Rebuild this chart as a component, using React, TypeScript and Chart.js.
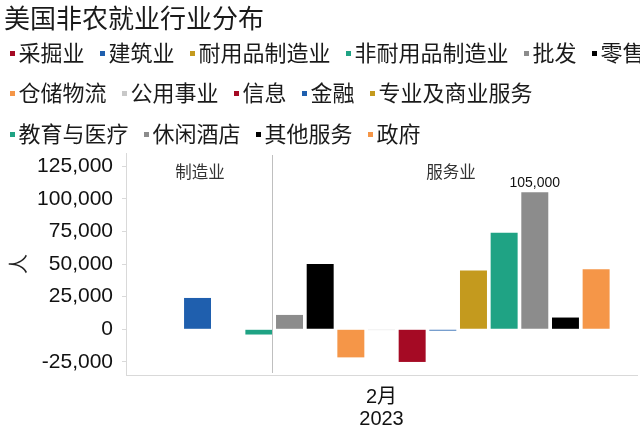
import React, { useEffect, useRef } from 'react';
import { Chart, registerables } from 'chart.js';

Chart.register(...registerables);

const TITLE = '美国非农就业行业分布';
const CATEGORY_LABEL = ['2月', '2023'];
const SERIES_NAMES = [
  '采掘业', '建筑业', '耐用品制造业', '非耐用品制造业', '批发', '零售',
  '仓储物流', '公用事业', '信息', '金融', '专业及商业服务',
  '教育与医疗', '休闲酒店', '其他服务', '政府',
];
const SERIES_VALUES = [0, 24000, 0, -4000, 11000, 50000, -21500, -600, -25000, -1000, 45000, 74000, 105000, 9000, 46000];
const SERIES_COLORS = [
  '#A50A24', '#1F5FAE', '#C49A1E', '#1FA384', '#8C8C8C', '#000000',
  '#F59648', '#C8C8C8', '#A50A24', '#1F5FAE', '#C49A1E',
  '#1FA384', '#8C8C8C', '#000000', '#F59648',
];
const Y_TICKS = [-25000, 0, 25000, 50000, 75000, 100000, 125000];
const Y_MIN = -35000;
const Y_MAX = 135000;
const Y_TITLE = '人';
const GROUP_LABELS = ['制造业', '服务业'];
const LEGEND_ROW_BREAKS = [6, 11];
const VALUE_LABEL_INDEX = 12;
const SEPARATOR_AFTER_INDEX = 3;

const CJK = '"Noto Sans CJK SC"';
const LATIN = '"Liberation Sans", "Noto Sans CJK SC"';

const fmt = (v: number) => v.toLocaleString('en-US');

const headerPlugin = {
  id: 'header',
  afterDraw(chart: any) {
    const ctx = chart.ctx as CanvasRenderingContext2D;
    ctx.save();
    ctx.textBaseline = 'middle';
    ctx.textAlign = 'left';
    ctx.fillStyle = '#1a1a1a';
    ctx.font = `26px ${CJK}`;
    ctx.fillText(TITLE, 4, 18);

    ctx.font = `22px ${CJK}`;
    const rowsY = [53, 93, 134];
    let row = 0;
    let x = 10;
    SERIES_NAMES.forEach((name, i) => {
      if (LEGEND_ROW_BREAKS.includes(i)) {
        row += 1;
        x = 10;
      }
      const y = rowsY[row];
      ctx.fillStyle = SERIES_COLORS[i];
      ctx.fillRect(x, y - 2, 5, 5);
      ctx.fillStyle = '#1a1a1a';
      ctx.fillText(name, x + 8.5, y);
      x += 8.5 + ctx.measureText(name).width + 15.5;
    });
    ctx.restore();
  },
  afterDatasetsDraw(chart: any) {
    const ctx = chart.ctx as CanvasRenderingContext2D;
    const area = chart.chartArea;
    ctx.save();
    // separator between manufacturing & services
    const b = chart.getDatasetMeta(SEPARATOR_AFTER_INDEX).data[0] as any;
    const sx = Math.floor(b.x + b.width / 2) + 0.5;
    ctx.strokeStyle = '#BFBFBF';
    ctx.lineWidth = 1;
    ctx.beginPath();
    ctx.moveTo(sx, area.top + 2);
    ctx.lineTo(sx, area.bottom - 2);
    ctx.stroke();

    // group labels
    ctx.fillStyle = '#333333';
    ctx.font = `16.5px ${CJK}`;
    ctx.textAlign = 'center';
    ctx.textBaseline = 'middle';
    const w = area.right - area.left;
    ctx.fillText(GROUP_LABELS[0], area.left + 0.145 * w, area.top + 19);
    ctx.fillText(GROUP_LABELS[1], area.left + 0.636 * w, area.top + 19);

    // value label
    const vb = chart.getDatasetMeta(VALUE_LABEL_INDEX).data[0] as any;
    ctx.fillStyle = '#111111';
    ctx.font = `14px ${LATIN}`;
    ctx.fillText(fmt(SERIES_VALUES[VALUE_LABEL_INDEX]), vb.x, vb.y - 9);
    ctx.restore();
  },
};

export default function App() {
  const ref = useRef<HTMLCanvasElement | null>(null);

  useEffect(() => {
    document.body.style.margin = '0';
    const canvas = ref.current;
    if (!canvas) return;
    const chart = new Chart(canvas, {
      type: 'bar',
      data: {
        labels: [CATEGORY_LABEL],
        datasets: SERIES_NAMES.map((name, i) => ({
          label: name,
          data: [SERIES_VALUES[i]],
          backgroundColor: SERIES_COLORS[i],
          borderWidth: 0,
          categoryPercentage: 0.9,
          barPercentage: 0.88,
        })),
      },
      options: {
        responsive: false,
        animation: false,
        devicePixelRatio: 1,
        layout: { padding: { top: 153, right: 3, left: 0, bottom: 0 } },
        plugins: {
          legend: { display: false },
          title: { display: false },
          tooltip: { enabled: false },
        },
        scales: {
          x: {
            grid: { display: false, drawTicks: false },
            border: { display: true, color: '#D9D9D9', width: 1 },
            ticks: {
              color: '#111111',
              font: { family: LATIN, size: 20, lineHeight: 1.1 },
              padding: 11,
              maxRotation: 0,
            },
            afterFit: (scale: any) => {
              scale.height = 54;
            },
          },
          y: {
            min: Y_MIN,
            max: Y_MAX,
            grid: { drawOnChartArea: false, drawTicks: true, tickLength: 4, color: '#D9D9D9' },
            border: { display: true, color: '#D9D9D9', width: 1 },
            ticks: {
              color: '#111111',
              font: { family: LATIN, size: 21 },
              padding: 9,
              callback: (v: any) => fmt(Number(v)),
            },
            afterBuildTicks: (scale: any) => {
              scale.ticks = Y_TICKS.map((value) => ({ value }));
            },
            title: {
              display: true,
              text: Y_TITLE,
              color: '#222222',
              font: { family: CJK, size: 20 },
              padding: { top: 6, bottom: 0 },
            },
            afterFit: (scale: any) => {
              scale.width = 126;
            },
          },
        },
      },
      plugins: [headerPlugin],
    });
    return () => chart.destroy();
  }, []);

  return (
    <div style={{ position: 'fixed', left: 0, top: 0, width: 640, height: 429, background: '#fff' }}>
      <canvas ref={ref} width={640} height={429} style={{ display: 'block', width: 640, height: 429 }} />
    </div>
  );
}
